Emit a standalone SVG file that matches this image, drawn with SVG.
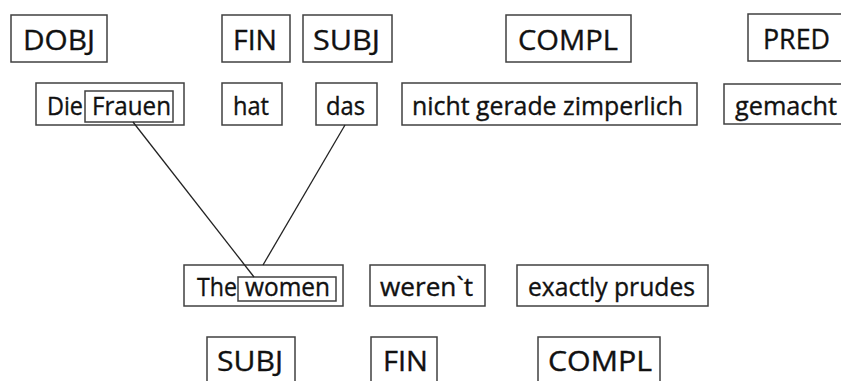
<svg xmlns="http://www.w3.org/2000/svg" width="841" height="381" viewBox="0 0 841 381">
  <style>
    .box { fill: #ffffff; stroke: #404040; stroke-width: 1.5; }
    .inner { fill: none; stroke: #404040; stroke-width: 1.5; }
    text { font-family: "Open Sans", "Noto Sans", "Liberation Sans", sans-serif; fill: #111111; stroke: #111111; stroke-width: 0.35; }
    .lab { font-size: 27px; }
    .lab2 { font-size: 27px; }
    .word { font-size: 25px; }
    .link { stroke: #222222; stroke-width: 1.3; fill: none; }
  </style>
  <rect width="841" height="381" fill="#ffffff"/>

  <!-- German function labels -->
  <g id="de-dobj"><rect class="box" x="11" y="15" width="96" height="47"/><text class="lab" x="23" y="50" textLength="72" lengthAdjust="spacingAndGlyphs">DOBJ</text></g>
  <g id="de-fin"><rect class="box" x="222" y="15" width="68" height="47"/><text class="lab" x="233" y="50" textLength="44" lengthAdjust="spacingAndGlyphs">FIN</text></g>
  <g id="de-subj"><rect class="box" x="303" y="15" width="89" height="47"/><text class="lab" x="313" y="50" textLength="67" lengthAdjust="spacingAndGlyphs">SUBJ</text></g>
  <g id="de-compl"><rect class="box" x="506" y="15" width="125" height="47"/><text class="lab" x="518" y="50" textLength="100" lengthAdjust="spacingAndGlyphs">COMPL</text></g>
  <g id="de-pred"><rect class="box" x="748" y="14" width="104" height="47"/><text class="lab" x="763" y="49" textLength="67" lengthAdjust="spacingAndGlyphs">PRED</text></g>

  <!-- German words -->
  <g id="de-die-frauen">
    <rect class="box" x="36" y="83" width="148" height="42"/>
    <rect class="inner" x="85" y="91" width="88" height="31"/>
    <text class="word" x="47" y="115" textLength="36" lengthAdjust="spacingAndGlyphs">Die</text>
    <text class="word" x="92" y="115" textLength="79" lengthAdjust="spacingAndGlyphs">Frauen</text>
  </g>
  <g id="de-hat"><rect class="box" x="222" y="83" width="60" height="42"/><text class="word" x="233" y="115" textLength="36" lengthAdjust="spacingAndGlyphs">hat</text></g>
  <g id="de-das"><rect class="box" x="316" y="83" width="61" height="42"/><text class="word" x="326" y="115" textLength="39" lengthAdjust="spacingAndGlyphs">das</text></g>
  <g id="de-nicht"><rect class="box" x="402" y="83" width="295" height="42"/><text class="word" x="412" y="115" textLength="271" lengthAdjust="spacingAndGlyphs">nicht gerade zimperlich</text></g>
  <g id="de-gemacht"><rect class="box" x="724" y="84" width="128" height="40"/><text class="word" x="735" y="115" textLength="102" lengthAdjust="spacingAndGlyphs">gemacht</text></g>

  <!-- English words -->
  <g id="en-the-women">
    <rect class="box" x="184" y="265" width="159" height="41"/>
    <rect class="inner" x="238" y="277" width="98" height="24"/>
    <text class="word" x="197" y="296" textLength="40" lengthAdjust="spacingAndGlyphs">The</text>
    <text class="word" x="245" y="296" textLength="85" lengthAdjust="spacingAndGlyphs">women</text>
  </g>
  <g id="en-werent"><rect class="box" x="370" y="265" width="115" height="41"/><text class="word" x="380" y="296" textLength="93" lengthAdjust="spacingAndGlyphs">weren`t</text></g>
  <g id="en-exactly"><rect class="box" x="517" y="265" width="191" height="41"/><text class="word" x="528" y="296" textLength="167" lengthAdjust="spacingAndGlyphs">exactly prudes</text></g>

  <!-- English function labels -->
  <g id="en-subj"><rect class="box" x="207" y="337" width="88" height="60"/><text class="lab2" x="217" y="371" textLength="66" lengthAdjust="spacingAndGlyphs">SUBJ</text></g>
  <g id="en-fin"><rect class="box" x="371" y="337" width="66" height="60"/><text class="lab2" x="383" y="371" textLength="45" lengthAdjust="spacingAndGlyphs">FIN</text></g>
  <g id="en-compl"><rect class="box" x="538" y="337" width="122" height="60"/><text class="lab2" x="548" y="371" textLength="104" lengthAdjust="spacingAndGlyphs">COMPL</text></g>

  <!-- alignment links -->
  <g id="links">
    <line class="link" x1="133" y1="122" x2="254" y2="277"/>
    <line class="link" x1="345" y1="125" x2="263" y2="265"/>
  </g>
</svg>
